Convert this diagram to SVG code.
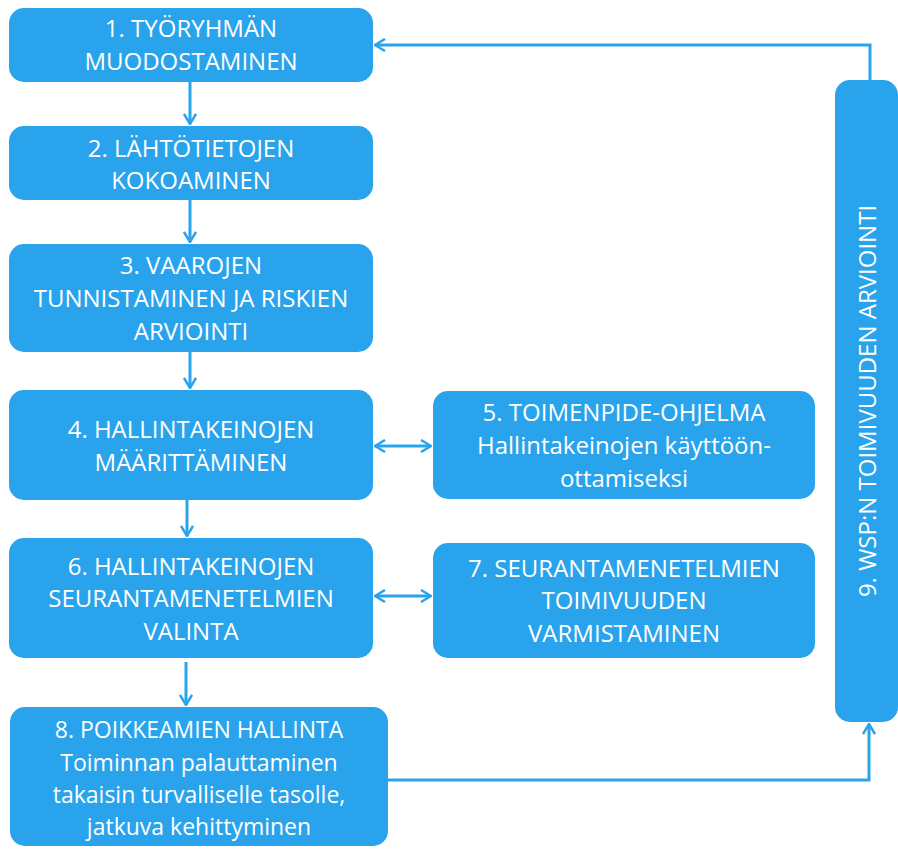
<svg xmlns="http://www.w3.org/2000/svg" width="898" height="849" viewBox="0 0 898 849">
<style>
.box{fill:#29A3EC;}
.t{font-family:"Open Sans","Liberation Sans",sans-serif;font-size:24px;fill:#ffffff;text-anchor:middle;}
.s{font-size:23px;}
.c{fill:none;stroke:#29A3EC;stroke-width:3;}
</style>
<defs>
<marker id="ah" viewBox="0 0 12 14" refX="11" refY="7" markerWidth="12" markerHeight="14" markerUnits="userSpaceOnUse" orient="auto-start-reverse">
<path d="M1,1 L11,7 L1,13" fill="none" stroke="#29A3EC" stroke-width="2.5"/>
</marker>
</defs>
<g id="connectors">
<line class="c" x1="190" y1="82" x2="190" y2="124" marker-end="url(#ah)"/>
<line class="c" x1="190" y1="200" x2="190" y2="242" marker-end="url(#ah)"/>
<line class="c" x1="190" y1="352" x2="190" y2="388" marker-end="url(#ah)"/>
<line class="c" x1="187" y1="500" x2="187" y2="536" marker-end="url(#ah)"/>
<line class="c" x1="186" y1="662" x2="186" y2="705" marker-end="url(#ah)"/>
<line class="c" x1="375" y1="446" x2="431" y2="446" marker-start="url(#ah)" marker-end="url(#ah)"/>
<line class="c" x1="375" y1="596" x2="431" y2="596" marker-start="url(#ah)" marker-end="url(#ah)"/>
<polyline class="c" points="388,780 869,780 869,724" marker-end="url(#ah)"/>
<polyline class="c" points="870,80 870,45 375,45" marker-end="url(#ah)"/>
</g>
<g id="n1"><rect class="box" x="9" y="8" width="364" height="74" rx="15"/>
<text class="t" x="191" y="37">1. TYÖRYHMÄN</text><text class="t" x="191" y="70">MUODOSTAMINEN</text></g>
<g id="n2"><rect class="box" x="9" y="126" width="364" height="74" rx="15"/>
<text class="t" x="191" y="157">2. LÄHTÖTIETOJEN</text><text class="t" x="191" y="189">KOKOAMINEN</text></g>
<g id="n3"><rect class="box" x="9" y="244" width="364" height="108" rx="15"/>
<text class="t" x="191" y="274">3. VAAROJEN</text><text class="t" x="191" y="307">TUNNISTAMINEN JA RISKIEN</text><text class="t" x="191" y="340">ARVIOINTI</text></g>
<g id="n4"><rect class="box" x="9" y="390" width="364" height="110" rx="15"/>
<text class="t" x="191" y="438">4. HALLINTAKEINOJEN</text><text class="t" x="191" y="471">MÄÄRITTÄMINEN</text></g>
<g id="n5"><rect class="box" x="433" y="391" width="382" height="108" rx="15"/>
<text class="t" x="624" y="421">5. TOIMENPIDE-OHJELMA</text><text class="t" x="624" y="454">Hallintakeinojen käyttöön-</text><text class="t" x="624" y="487">ottamiseksi</text></g>
<g id="n6"><rect class="box" x="9" y="538" width="364" height="120" rx="15"/>
<text class="t" x="191" y="575">6. HALLINTAKEINOJEN</text><text class="t" x="191" y="607">SEURANTAMENETELMIEN</text><text class="t" x="191" y="640">VALINTA</text></g>
<g id="n7"><rect class="box" x="433" y="543" width="382" height="115" rx="15"/>
<text class="t" x="624" y="577">7. SEURANTAMENETELMIEN</text><text class="t" x="624" y="609">TOIMIVUUDEN</text><text class="t" x="624" y="642">VARMISTAMINEN</text></g>
<g id="n8"><rect class="box" x="10" y="707" width="378" height="139" rx="15"/>
<text class="t s" x="199" y="738">8. POIKKEAMIEN HALLINTA</text><text class="t s" x="199" y="771">Toiminnan palauttaminen</text><text class="t s" x="199" y="803">takaisin turvalliselle tasolle,</text><text class="t s" x="199" y="835">jatkuva kehittyminen</text></g>
<g id="n9"><rect class="box" x="835" y="80" width="63" height="642" rx="15"/>
<text class="t" x="0" y="0" transform="translate(876,401) rotate(-90)">9. WSP:N TOIMIVUUDEN ARVIOINTI</text></g>
</svg>
